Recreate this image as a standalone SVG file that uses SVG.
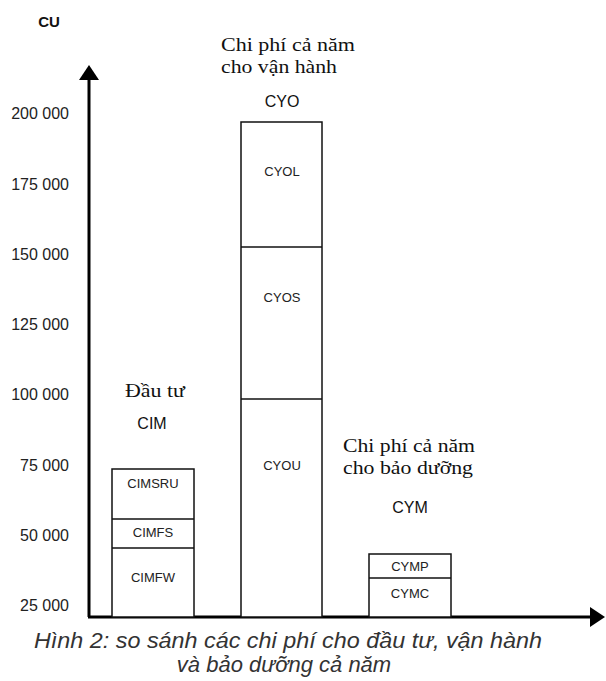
<svg xmlns="http://www.w3.org/2000/svg" width="606" height="681" viewBox="0 0 606 681">
<style>
.tick{font-family:"Liberation Sans",Arial,sans-serif;font-size:16px;fill:#222;text-anchor:end}
.bar{fill:#fff;stroke:#111;stroke-width:1.5}
.div{stroke:#111;stroke-width:1.5}
.bl{font-family:"Liberation Sans",Arial,sans-serif;font-size:13px;fill:#222;text-anchor:middle}
.gl{font-family:"Liberation Sans",Arial,sans-serif;font-size:16px;fill:#111;text-anchor:middle}
.ser{font-family:"Liberation Serif","Times New Roman",serif;font-size:19.5px;fill:#111}
.cap{font-family:"Liberation Sans",Arial,sans-serif;font-size:22px;font-style:italic;fill:#333;text-anchor:middle}
.axis{stroke:#000;stroke-width:3;fill:none}
</style>
<g id="axes">
<line class="axis" x1="89" y1="617" x2="89" y2="80"/>
<polygon points="89,65 79,80 99,80" fill="#000"/>
<line class="axis" x1="88" y1="617" x2="590" y2="617"/>
<polygon points="605,617 590,607 590,627" fill="#000"/>
<text x="49" y="27" style="font-family:'Liberation Sans',Arial,sans-serif;font-size:15px;font-weight:bold;fill:#111;text-anchor:middle">CU</text>
</g>
<g id="ticks">
<text class="tick" x="69" y="119">200 000</text>
<text class="tick" x="69" y="190">175 000</text>
<text class="tick" x="69" y="260">150 000</text>
<text class="tick" x="69" y="330">125 000</text>
<text class="tick" x="69" y="400">100 000</text>
<text class="tick" x="69" y="471">75 000</text>
<text class="tick" x="69" y="541">50 000</text>
<text class="tick" x="69" y="611">25 000</text>
</g>
<g id="cim">
<rect class="bar" x="112" y="469" width="82" height="148"/>
<line class="div" x1="112" y1="519" x2="194" y2="519"/>
<line class="div" x1="112" y1="548" x2="194" y2="548"/>
<text class="bl" x="153" y="488">CIMSRU</text>
<text class="bl" x="153" y="537">CIMFS</text>
<text class="bl" x="153" y="582">CIMFW</text>
<text class="ser" x="125" y="397" textLength="60" lengthAdjust="spacingAndGlyphs">Đầu tư</text>
<text class="gl" x="152" y="429">CIM</text>
</g>
<g id="cyo">
<rect class="bar" x="241" y="122" width="81" height="495"/>
<line class="div" x1="241" y1="247" x2="322" y2="247"/>
<line class="div" x1="241" y1="399" x2="322" y2="399"/>
<text class="bl" x="282" y="176">CYOL</text>
<text class="bl" x="282" y="302">CYOS</text>
<text class="bl" x="282" y="470">CYOU</text>
<text class="ser" x="221" y="51" textLength="134" lengthAdjust="spacingAndGlyphs">Chi phí cả năm</text>
<text class="ser" x="221" y="73" textLength="116" lengthAdjust="spacingAndGlyphs">cho vận hành</text>
<text class="gl" x="282" y="107">CYO</text>
</g>
<g id="cym">
<rect class="bar" x="369" y="554" width="82" height="63"/>
<line class="div" x1="369" y1="578" x2="451" y2="578"/>
<text class="bl" x="410" y="571">CYMP</text>
<text class="bl" x="410" y="598">CYMC</text>
<text class="ser" x="343" y="452" textLength="132" lengthAdjust="spacingAndGlyphs">Chi phí cả năm</text>
<text class="ser" x="343" y="474" textLength="130" lengthAdjust="spacingAndGlyphs">cho bảo dưỡng</text>
<text class="gl" x="410" y="513">CYM</text>
</g>
<g id="caption">
<text class="cap" x="288" y="648" textLength="508" lengthAdjust="spacingAndGlyphs">Hình 2: so sánh các chi phí cho đầu tư, vận hành</text>
<text class="cap" x="284" y="672">và bảo dưỡng cả năm</text>
</g>
</svg>
